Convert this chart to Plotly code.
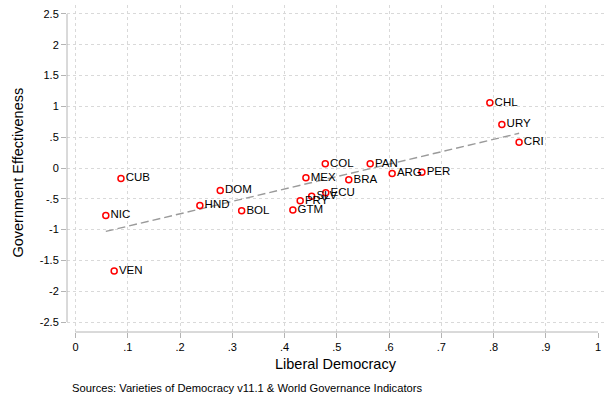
import numpy as np
import plotly.graph_objects as go

# Country codes with liberal democracy index and government effectiveness
countries = ["CUB", "NIC", "VEN", "HND", "DOM", "BOL", "GTM", "PRY", "SLV", "ECU",
             "MEX", "COL", "BRA", "PAN", "ARG", "PER", "CHL", "URY", "CRI"]
lib_dem = [0.087, 0.058, 0.074, 0.238, 0.277, 0.318, 0.416, 0.430, 0.452, 0.479,
           0.441, 0.478, 0.523, 0.564, 0.606, 0.663, 0.793, 0.816, 0.849]
gov_eff = [-0.17, -0.77, -1.67, -0.61, -0.365, -0.695, -0.68, -0.53, -0.46, -0.40,
           -0.16, 0.068, -0.19, 0.068, -0.09, -0.068, 1.058, 0.706, 0.419]

x_ticks = [0, 0.1, 0.2, 0.3, 0.4, 0.5, 0.6, 0.7, 0.8, 0.9, 1.0]
x_ticktext = ["0", ".1", ".2", ".3", ".4", ".5", ".6", ".7", ".8", ".9", "1"]
y_ticks = [2.5, 2, 1.5, 1, 0.5, 0, -0.5, -1, -1.5, -2, -2.5]
y_ticktext = ["2.5", "2", "1.5", "1", ".5", "0", "-.5", "-1", "-1.5", "-2", "-2.5"]

FONT = "Liberation Sans, Arial, Helvetica, sans-serif"
AXIS_GRAY = "#b4b4b4"
GRID_GRAY = "#d9d9d9"

# Linear fit over the observed range
slope, intercept = np.polyfit(lib_dem, gov_eff, 1)
fit_x = np.array([min(lib_dem), max(lib_dem)])
fit_y = slope * fit_x + intercept

fig = go.Figure()

fig.add_trace(go.Scatter(
    x=fit_x, y=fit_y, mode="lines",
    line=dict(color="#9a9a9a", width=1.4, dash="8px,4px"),
    hoverinfo="skip", showlegend=False,
))

fig.add_trace(go.Scatter(
    x=lib_dem, y=gov_eff, mode="markers+text",
    text=countries, textposition="middle right",
    textfont=dict(family=FONT, size=11.5, color="black"),
    marker=dict(symbol="circle-open", size=6, color="red", line=dict(width=1.5, color="red")),
    showlegend=False,
))

fig.update_layout(
    width=606, height=401,
    margin=dict(l=67, r=0, t=5, b=69),
    paper_bgcolor="white", plot_bgcolor="white",
    font=dict(family=FONT, size=11, color="black"),
    xaxis=dict(
        range=[-0.01627, 1.01531],
        tickmode="array", tickvals=x_ticks, ticktext=x_ticktext,
        ticks="outside", ticklen=5, tickwidth=1, tickcolor=AXIS_GRAY,
        showgrid=False, zeroline=False, showline=False,
        tickfont=dict(size=11),
        minor=dict(tickmode="array", tickvals=x_ticks[:-1], ticks="",
                   showgrid=True, gridcolor=GRID_GRAY, griddash="dot", gridwidth=1),
    ),
    yaxis=dict(
        range=[-2.662, 2.646],
        tickmode="array", tickvals=y_ticks, ticktext=y_ticktext,
        ticks="outside", ticklen=5, tickwidth=1, tickcolor=AXIS_GRAY,
        showgrid=True, gridcolor=GRID_GRAY, griddash="dot", gridwidth=1,
        zeroline=False, showline=False,
        tickfont=dict(size=11),
    ),
    shapes=[
        # y axis line spanning the labelled range
        dict(type="line", xref="x domain", yref="y", x0=0, x1=0,
             y0=min(y_ticks), y1=max(y_ticks), line=dict(color=AXIS_GRAY, width=1)),
        # x axis line spanning the labelled range
        dict(type="line", xref="x", yref="y domain", x0=min(x_ticks), x1=max(x_ticks),
             y0=0, y1=0, line=dict(color=AXIS_GRAY, width=1)),
    ],
    annotations=[
        dict(text="Liberal Democracy", xref="paper", yref="paper",
             x=0.499, y=-0.098, xanchor="center", yanchor="middle",
             showarrow=False, font=dict(size=14.5)),
        dict(text="Government Effectiveness", xref="paper", yref="paper",
             x=-0.09, y=0.489, xanchor="center", yanchor="middle", textangle=-90,
             showarrow=False, font=dict(size=14.5)),
        dict(text="Sources: Varieties of Democracy v11.1 & World Governance Indicators",
             xref="paper", yref="paper", x=0.0056, y=-0.171,
             xanchor="left", yanchor="middle", showarrow=False, font=dict(size=11.2)),
    ],
)

fig.write_html("out.html")
